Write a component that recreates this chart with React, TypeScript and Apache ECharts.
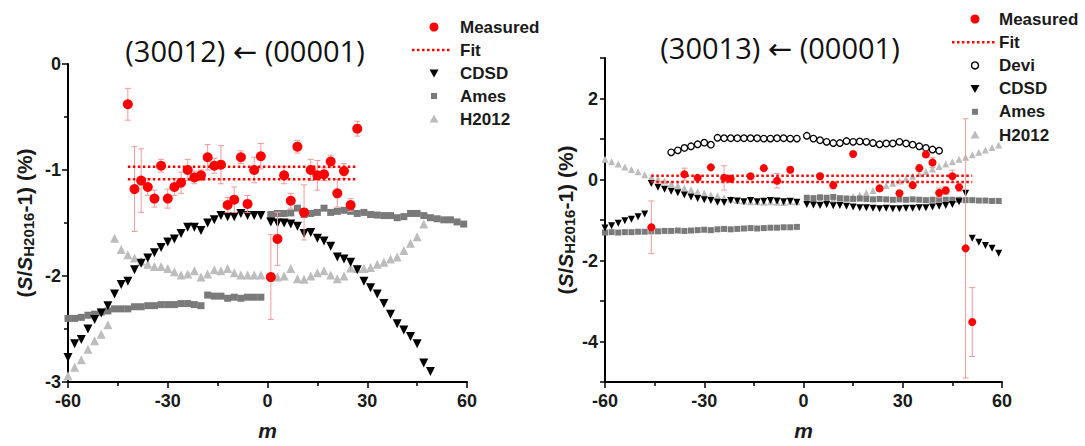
import React, { useEffect, useRef } from 'react';
import * as echarts from 'echarts';

// m values (P branch even negative, R branch odd positive)
const M_NEG = [-60, -58, -56, -54, -52, -50, -48, -46, -44, -42, -40, -38, -36, -34, -32, -30, -28, -26, -24, -22, -20, -18, -16, -14, -12, -10, -8, -6, -4, -2];
const M_POS = [1, 3, 5, 7, 9, 11, 13, 15, 17, 19, 21, 23, 25, 27, 29, 31, 33, 35, 37, 39, 41, 43, 45, 47, 49, 51, 53, 55, 57, 59];

// ---------- Left panel: (30012) <- (00001)
const L_MEAS_M = [-42, -40, -38, -36, -34, -32, -30, -28, -26, -24, -22, -20, -18, -16, -14, -12, -10, -8, -6, -4, -2, 1, 3, 5, 7, 9, 11, 13, 15, 17, 19, 21, 23, 25, 27];
const L_MEAS_V = [-0.38, -1.18, -1.10, -1.16, -1.27, -0.96, -1.27, -1.16, -1.12, -1.00, -1.07, -1.05, -0.88, -0.96, -0.95, -1.33, -1.28, -0.88, -1.32, -1.00, -0.87, -2.01, -1.65, -1.05, -1.29, -0.78, -1.40, -1.00, -1.05, -1.04, -0.92, -1.22, -1.01, -1.33, -0.61];
const L_MEAS_E = [0.15, 0.40, 0.30, 0.08, 0.08, 0.06, 0.09, 0.08, 0.10, 0.10, 0.06, 0.05, 0.12, 0.07, 0.18, 0.07, 0.12, 0.06, 0.08, 0.12, 0.12, 0.40, 0.25, 0.08, 0.07, 0.06, 0.26, 0.10, 0.14, 0.06, 0.06, 0.13, 0.07, 0.06, 0.07];
const L_FIT_RANGE = [-42, 27];
const L_FIT_V = [-0.97, -1.087];
const L_CDSD_M = [...M_NEG, ...M_POS.slice(0, 25)];
const L_CDSD_V = [-2.77, -2.64, -2.60, -2.50, -2.41, -2.35, -2.28, -2.17, -2.08, -2.05, -1.94, -1.88, -1.83, -1.78, -1.73, -1.68, -1.65, -1.60, -1.54, -1.54, -1.57, -1.50, -1.47, -1.43, -1.44, -1.44, -1.41, -1.43, -1.43, -1.43,
  -1.49, -1.50, -1.50, -1.51, -1.53, -1.60, -1.59, -1.645, -1.67, -1.72, -1.82, -1.84, -1.87, -1.94, -2.05, -2.11, -2.17, -2.26, -2.36, -2.45, -2.51, -2.57, -2.64, -2.82, -2.90];
const L_AMES_M = [...M_NEG, ...M_POS];
const L_AMES_V = [-2.40, -2.40, -2.39, -2.37, -2.36, -2.34, -2.33, -2.31, -2.31, -2.31, -2.29, -2.29, -2.28, -2.28, -2.27, -2.27, -2.27, -2.26, -2.26, -2.27, -2.28, -2.18, -2.19, -2.19, -2.21, -2.20, -2.21, -2.20, -2.20, -2.20,
  -1.42, -1.41, -1.41, -1.405, -1.36, -1.42, -1.41, -1.40, -1.36, -1.40, -1.39, -1.38, -1.39, -1.41, -1.40, -1.42, -1.425, -1.43, -1.43, -1.45, -1.44, -1.41, -1.41, -1.43, -1.45, -1.46, -1.47, -1.47, -1.49, -1.51];
const L_H2012_M = [...M_NEG, ...M_POS.slice(0, 24)];
const L_H2012_V = [-2.94, -2.86, -2.79, -2.69, -2.61, -2.55, -2.46, -1.645, -1.75, -1.80, -1.83, -1.86, -1.89, -1.91, -1.91, -1.93, -1.96, -1.99, -1.98, -1.95, -2.01, -1.98, -1.94, -1.95, -1.93, -1.97, -1.99, -1.99, -1.99, -1.99,
  -2.00, -2.01, -2.00, -1.93, -2.025, -2.03, -2.00, -1.97, -1.95, -1.99, -2.025, -2.00, -1.925, -1.93, -1.93, -1.92, -1.89, -1.87, -1.84, -1.82, -1.76, -1.69, -1.63, -1.51];

// ---------- Right panel: (30013) <- (00001)
const R_MEAS_M = [-46, -36, -32, -28, -24, -22, -16, -12, -8, -4, 5, 9, 15, 23, 29, 33, 35, 37, 39, 41, 43, 45, 47, 49, 51];
const R_MEAS_V = [-1.18, 0.13, 0.04, 0.30, 0.04, 0.02, 0.08, 0.28, -0.03, 0.24, 0.08, -0.14, 0.63, -0.22, -0.34, -0.14, 0.28, 0.62, 0.42, -0.33, -0.27, 0.08, -0.19, -1.70, -3.52];
const R_MEAS_E = [0.65, 0.15, 0.05, 0.05, 0.30, 0.05, 0.05, 0.05, 0.18, 0.07, 0.08, 0.08, 0.05, 0.05, 0.05, 0.05, 0.08, 0.08, 0.12, 0.12, 0.10, 0.15, 0.10, 3.20, 0.85];
const R_FIT_RANGE = [-46, 51];
const R_FIT_V = [0.095, -0.06];
const R_DEVI_M = [...M_NEG.slice(10), ...M_POS.slice(0, 21)];
const R_DEVI_V = [0.67, 0.72, 0.78, 0.82, 0.87, 0.91, 0.86, 1.03, 1.02, 1.02, 1.02, 1.02, 1.02, 1.02, 1.01, 1.01, 1.02, 1.02, 1.01, 1.01,
  1.08, 1.01, 0.97, 0.93, 0.90, 0.90, 0.95, 0.93, 0.94, 0.93, 0.90, 0.87, 0.89, 0.89, 0.93, 0.89, 0.86, 0.82, 0.78, 0.74, 0.71];
const R_CDSD_M = [...M_NEG, ...M_POS];
const R_CDSD_V = [-1.20, -1.14, -1.08, -1.02, -0.98, -0.92, -0.85, -0.10, -0.19, -0.24, -0.29, -0.33, -0.38, -0.43, -0.47, -0.50, -0.52, -0.56, -0.57, -0.52, -0.53, -0.55, -0.52, -0.55, -0.54, -0.52, -0.53, -0.55, -0.54, -0.56,
  -0.62, -0.63, -0.64, -0.62, -0.65, -0.64, -0.66, -0.68, -0.70, -0.70, -0.71, -0.72, -0.71, -0.72, -0.72, -0.71, -0.71, -0.70, -0.70, -0.68, -0.66, -0.64, -0.62, -0.55, -0.34, -1.45, -1.55, -1.63, -1.70, -1.82];
const R_AMES_M = [...M_NEG, ...M_POS];
const R_AMES_V = [-1.31, -1.30, -1.31, -1.30, -1.30, -1.29, -1.29, -1.28, -1.28, -1.27, -1.27, -1.26, -1.27, -1.26, -1.25, -1.24, -1.25, -1.23, -1.22, -1.23, -1.22, -1.21, -1.20, -1.21, -1.20, -1.19, -1.19, -1.18, -1.18, -1.17,
  -0.45, -0.46, -0.44, -0.45, -0.43, -0.46, -0.47, -0.48, -0.47, -0.48, -0.49, -0.48, -0.49, -0.50, -0.49, -0.50, -0.49, -0.50, -0.51, -0.50, -0.49, -0.50, -0.50, -0.50, -0.51, -0.51, -0.52, -0.52, -0.53, -0.53];
const R_H2012_M = [...M_NEG, ...M_POS];
const R_H2012_V = [0.50, 0.44, 0.38, 0.31, 0.25, 0.19, 0.12, 0.06, 0.01, -0.04, -0.10, -0.15, -0.21, -0.25, -0.30, -0.34, -0.38, -0.41, -0.45, -0.49, -0.52, -0.53, -0.55, -0.55, -0.56, -0.55, -0.56, -0.57, -0.55, -0.55,
  -0.50, -0.50, -0.50, -0.49, -0.49, -0.48, -0.46, -0.42, -0.38, -0.33, -0.27, -0.21, -0.15, -0.09, -0.04, 0.02, 0.08, 0.14, 0.20, 0.26, 0.32, 0.38, 0.44, 0.50, 0.55, 0.61, 0.67, 0.73, 0.79, 0.85];

const TITLES = ['(30012) \u2190 (00001)', '(30013) \u2190 (00001)'];
const LEGEND_L = ['Measured', 'Fit', 'CDSD', 'Ames', 'H2012'];
const LEGEND_R = ['Measured', 'Fit', 'Devi', 'CDSD', 'Ames', 'H2012'];

const FONT = '"Liberation Sans", Arial, sans-serif';
const RED = '#ff0000';
const ERR = '#f39a9a';
const AMES = '#7a7a7a';
const H2012 = '#bdbdbd';
const INK = '#1a1a1a';

const pairs = (ms: number[], vs: number[]) => ms.map((m, i) => [m, vs[i]]);
const triples = (ms: number[], vs: number[], es: number[]) => ms.map((m, i) => [m, vs[i], es[i]]);

const errRender = (params: any, api: any) => {
  const x = api.value(0), y = api.value(1), e = api.value(2);
  const p1 = api.coord([x, y + e]);
  const p2 = api.coord([x, y - e]);
  const hw = 3;
  const style = { stroke: ERR, lineWidth: 1 };
  return {
    type: 'group',
    children: [
      { type: 'line', shape: { x1: p1[0], y1: p1[1], x2: p2[0], y2: p2[1] }, style },
      { type: 'line', shape: { x1: p1[0] - hw, y1: p1[1], x2: p1[0] + hw, y2: p1[1] }, style },
      { type: 'line', shape: { x1: p2[0] - hw, y1: p2[1], x2: p2[0] + hw, y2: p2[1] }, style },
    ],
  };
};

// legend drawn as graphic elements (marker + text per row)
const legendMarker = (name: string, cx: number, y: number, lineX: [number, number]) => {
  switch (name) {
    case 'Measured':
      return { type: 'circle', shape: { cx, cy: y, r: 4.5 }, style: { fill: RED } };
    case 'Fit':
      return { type: 'line', shape: { x1: lineX[0], y1: y, x2: lineX[1], y2: y }, style: { stroke: RED, lineWidth: 2.5, lineDash: [2.5, 2.5] } };
    case 'Devi':
      return { type: 'circle', shape: { cx, cy: y, r: 3.5 }, style: { fill: '#fff', stroke: '#000', lineWidth: 1.4 } };
    case 'CDSD':
      return { type: 'polygon', shape: { points: [[cx - 4.5, y - 3.5], [cx + 4.5, y - 3.5], [cx, y + 4.5]] }, style: { fill: '#000' } };
    case 'Ames':
      return { type: 'rect', shape: { x: cx - 3, y: y - 3, width: 6, height: 6 }, style: { fill: AMES } };
    default:
      return { type: 'polygon', shape: { points: [[cx - 4.5, y + 3.5], [cx + 4.5, y + 3.5], [cx, y - 4.5]] }, style: { fill: H2012 } };
  }
};
const legendGraphic = (names: string[], cx: number, textX: number, y0: number, dy: number, lineX: [number, number]) =>
  names.flatMap((name, i) => {
    const y = y0 + i * dy;
    return [
      legendMarker(name, cx, y, lineX),
      { type: 'text', x: textX, y, style: { text: name, fill: INK, font: `bold 17px ${FONT}`, align: 'left', verticalAlign: 'middle' } },
    ];
  });

const axisLabelStyle = { color: INK, fontFamily: FONT, fontWeight: 'bold', fontSize: 18 };
const yName = '({i|S}/{i|S}{sub|H2016}-1) (%)';
const yNameStyle = {
  color: INK, fontFamily: FONT, fontWeight: 'bold', fontSize: 21, lineHeight: 24,
  rich: {
    i: { fontFamily: FONT, fontWeight: 'bold', fontStyle: 'italic', fontSize: 21, lineHeight: 24, color: INK },
    sub: { fontFamily: FONT, fontWeight: 'bold', fontSize: 15, lineHeight: 15, verticalAlign: 'bottom', color: INK },
  },
};

const xAxisBase = (gridIndex: number) => ({
  type: 'value', gridIndex, min: -60, max: 60, interval: 30,
  axisLine: { show: true, onZero: false, lineStyle: { color: '#000', width: 2 } },
  axisTick: { show: true, length: 6, lineStyle: { color: '#000', width: 1.5 } },
  minorTick: { show: true, splitNumber: 2, length: 4, lineStyle: { color: '#000', width: 1.5 } },
  splitLine: { show: false },
  axisLabel: { ...axisLabelStyle, margin: 10 },
  name: 'm', nameLocation: 'middle', nameGap: 38,
  nameTextStyle: { color: INK, fontFamily: FONT, fontWeight: 'bold', fontStyle: 'italic', fontSize: 21 },
});

const scatter = (name: string, axis: number, symbol: string, size: number, color: string, data: number[][], extra: any = {}) => ({
  name, type: 'scatter', xAxisIndex: axis, yAxisIndex: axis, symbol, symbolSize: size,
  itemStyle: { color, opacity: 1 }, data, ...extra,
});

const option: any = {
  animation: false,
  backgroundColor: '#ffffff',
  grid: [
    { left: 68, top: 64, width: 399, height: 321 },
    { left: 605, top: 58, width: 397, height: 328 },
  ],
  xAxis: [xAxisBase(0), xAxisBase(1)],
  yAxis: [
    {
      type: 'value', gridIndex: 0, min: -3, max: 0, interval: 1,
      axisLine: { show: true, onZero: false, lineStyle: { color: '#000', width: 2 } },
      axisTick: { show: true, length: 6, lineStyle: { color: '#000', width: 1.5 } },
      minorTick: { show: true, splitNumber: 2, length: 4, lineStyle: { color: '#000', width: 1.5 } },
      splitLine: { show: false },
      axisLabel: { ...axisLabelStyle, margin: 7 },
      name: yName, nameLocation: 'middle', nameRotate: 90, nameGap: 32, nameTextStyle: yNameStyle,
    },
    {
      type: 'value', gridIndex: 1, min: -5, max: 3, interval: 1,
      axisLine: { show: true, onZero: false, lineStyle: { color: '#000', width: 2 } },
      axisTick: { show: true, length: 5, lineStyle: { color: '#000', width: 1.5 } },
      splitLine: { show: false },
      axisLabel: { ...axisLabelStyle, margin: 7, formatter: (v: number) => (Math.round(v) % 2 === 0 && v > -5 && v < 3 ? String(v) : '') },
      name: yName, nameLocation: 'middle', nameRotate: 90, nameGap: 28, nameTextStyle: yNameStyle,
    },
  ],
  graphic: [
    { type: 'text', x: 245, y: 50, style: { text: TITLES[0], fill: '#111', font: '29px "Open Sans", "DejaVu Sans", sans-serif', align: 'center', verticalAlign: 'middle' } },
    { type: 'text', x: 780, y: 47, style: { text: TITLES[1], fill: '#111', font: '29px "Open Sans", "DejaVu Sans", sans-serif', align: 'center', verticalAlign: 'middle' } },
    ...legendGraphic(LEGEND_L, 434, 460, 27, 23, [412, 450]),
    ...legendGraphic(LEGEND_R, 975, 999, 19, 23.2, [952, 996]),
  ],
  series: [
    // left panel
    scatter('H2012', 0, 'triangle', 9, H2012, pairs(L_H2012_M, L_H2012_V)),
    scatter('Ames', 0, 'rect', 7, AMES, pairs(L_AMES_M, L_AMES_V)),
    scatter('CDSD', 0, 'triangle', 9, '#000', pairs(L_CDSD_M, L_CDSD_V), { symbolRotate: 180 }),
    ...L_FIT_V.map((v) => ({ name: 'Fit', type: 'line', xAxisIndex: 0, yAxisIndex: 0, symbol: 'none', silent: true, lineStyle: { color: RED, width: 2.5, type: [2.5, 2.5] }, data: [[L_FIT_RANGE[0], v], [L_FIT_RANGE[1], v]] })),
    { name: 'errL', type: 'custom', xAxisIndex: 0, yAxisIndex: 0, renderItem: errRender, encode: { x: 0, y: 1 }, data: triples(L_MEAS_M, L_MEAS_V, L_MEAS_E), z: 3 },
    scatter('Measured', 0, 'circle', 10, RED, pairs(L_MEAS_M, L_MEAS_V), { z: 4 }),
    // right panel
    scatter('H2012', 1, 'triangle', 7, H2012, pairs(R_H2012_M, R_H2012_V)),
    scatter('Ames', 1, 'rect', 6, AMES, pairs(R_AMES_M, R_AMES_V)),
    scatter('CDSD', 1, 'triangle', 7, '#000', pairs(R_CDSD_M, R_CDSD_V), { symbolRotate: 180 }),
    { name: 'Devi', type: 'scatter', xAxisIndex: 1, yAxisIndex: 1, symbol: 'circle', symbolSize: 6.5, itemStyle: { color: '#fff', borderColor: '#000', borderWidth: 1.3, opacity: 1 }, data: pairs(R_DEVI_M, R_DEVI_V) },
    ...R_FIT_V.map((v) => ({ name: 'Fit', type: 'line', xAxisIndex: 1, yAxisIndex: 1, symbol: 'none', silent: true, lineStyle: { color: RED, width: 2.5, type: [2.5, 2.5] }, data: [[R_FIT_RANGE[0], v], [R_FIT_RANGE[1], v]] })),
    { name: 'errR', type: 'custom', xAxisIndex: 1, yAxisIndex: 1, renderItem: errRender, encode: { x: 0, y: 1 }, data: triples(R_MEAS_M, R_MEAS_V, R_MEAS_E), z: 3 },
    scatter('Measured', 1, 'circle', 8, RED, pairs(R_MEAS_M, R_MEAS_V), { z: 4 }),
  ],
};

export default function App() {
  const ref = useRef<HTMLDivElement>(null);
  useEffect(() => {
    const chart = echarts.init(ref.current as HTMLDivElement, null, { renderer: 'svg' });
    chart.setOption(option);
    return () => chart.dispose();
  }, []);
  return <div ref={ref} style={{ position: 'absolute', left: 0, top: 0, width: 1085, height: 446, background: '#fff' }} />;
}
